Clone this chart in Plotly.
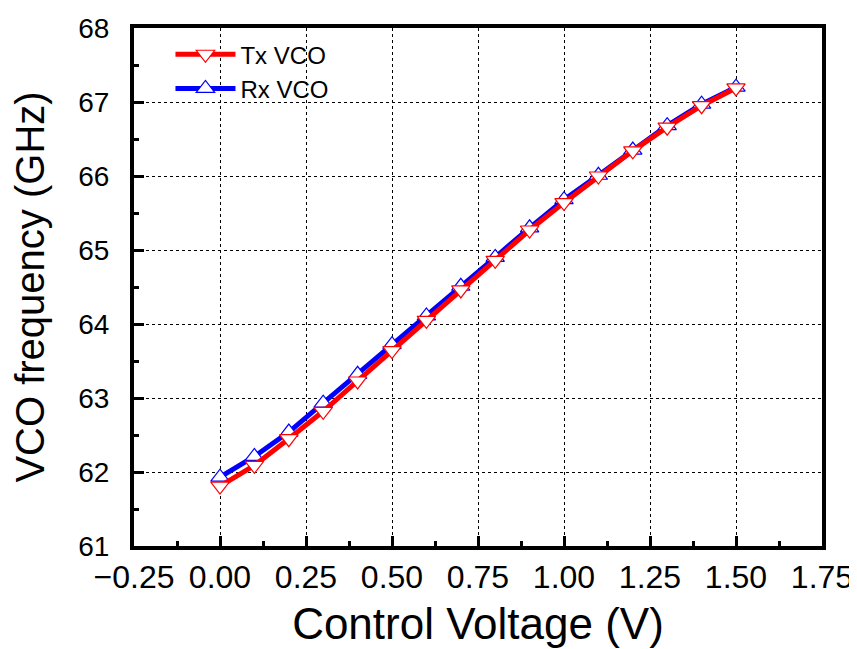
import plotly.graph_objects as go

# control voltage sweep (V)
vctrl = [0.0, 0.1, 0.2, 0.3, 0.4, 0.5, 0.6, 0.7, 0.8, 0.9, 1.0, 1.1, 1.2, 1.3, 1.4, 1.5]

# measured oscillation frequency (GHz)
tx_freq = [61.81, 62.09, 62.45, 62.82, 63.23, 63.64, 64.05, 64.46, 64.86, 65.27,
           65.64, 66.00, 66.34, 66.66, 66.95, 67.19]
rx_freq = [61.93, 62.21, 62.54, 62.93, 63.32, 63.72, 64.11, 64.51, 64.90, 65.30,
           65.68, 66.01, 66.35, 66.68, 66.97, 67.20]

font = "Liberation Sans, Arial, sans-serif"

fig = go.Figure()

# Rx drawn first so Tx sits on top
fig.add_trace(go.Scatter(
    x=vctrl, y=rx_freq, name="Rx VCO", mode="lines+markers", legendrank=2,
    line=dict(color="#0000ff", width=5),
    marker=dict(symbol="triangle-up", size=16, color="white",
                line=dict(color="#0000ff", width=1.2))
))
fig.add_trace(go.Scatter(
    x=vctrl, y=tx_freq, name="Tx VCO", mode="lines+markers", legendrank=1,
    line=dict(color="#ff0000", width=5),
    marker=dict(symbol="triangle-down", size=16, color="white",
                line=dict(color="#ff0000", width=1.2))
))

axis_common = dict(
    showline=True, linecolor="black", linewidth=4, mirror=True,
    ticks="inside", ticklen=10, tickwidth=3, tickcolor="black",
    showgrid=True, gridcolor="black", gridwidth=1, griddash="dot",
    zeroline=False, automargin=False,
)

fig.update_xaxes(
    range=[-0.25, 1.75], dtick=0.25, tickformat=".2f", tickangle=0,
    tickfont=dict(family=font, size=32, color="black"),
    ticklabelstandoff=0,
    minor=dict(dtick=0.125, ticks="inside", ticklen=5, tickwidth=3,
               tickcolor="black", showgrid=False),
    title=dict(text="Control Voltage (V)", font=dict(family=font, size=44, color="black"),
               standoff=15),
    **axis_common
)
fig.update_yaxes(
    range=[61, 68], dtick=1,
    tickfont=dict(family=font, size=28, color="black"),
    ticklabelstandoff=15,
    minor=dict(dtick=0.5, ticks="inside", ticklen=5, tickwidth=3,
               tickcolor="black", showgrid=False),
    title=dict(text="VCO frequency (GHz)", font=dict(family=font, size=40, color="black"),
               standoff=30),
    **axis_common
)

# the page adds an 8 px body margin, so the margins are offset by it
fig.update_layout(
    width=857, height=649,
    margin=dict(l=126, r=43, t=20, b=111),
    plot_bgcolor="white", paper_bgcolor="white",
    showlegend=True,
    legend=dict(x=0.053, y=0.992, xanchor="left", yanchor="top",
                bgcolor="rgba(0,0,0,0)", font=dict(family=font, size=24, color="black"),
                itemwidth=60, tracegroupgap=0),
)

fig.write_html("out.html")
